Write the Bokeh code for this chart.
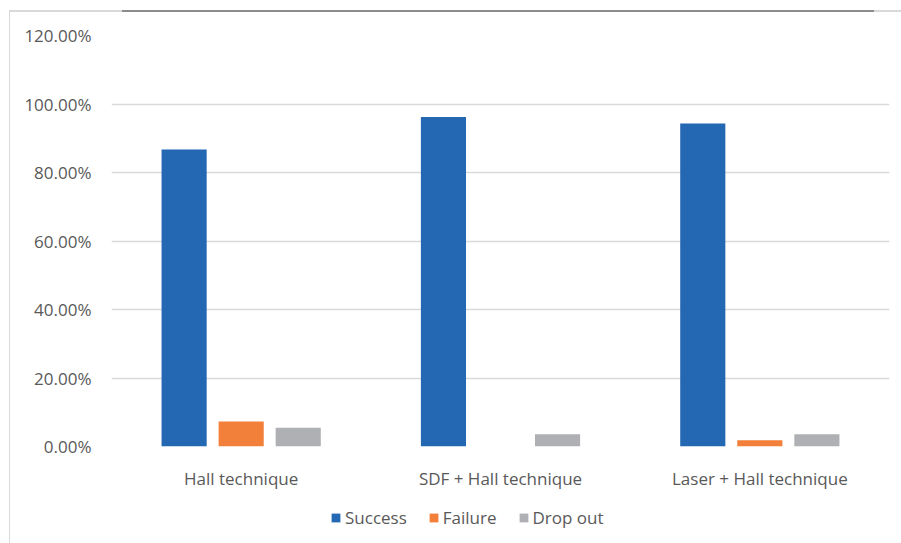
from bokeh.plotting import figure
from bokeh.models import ColumnDataSource, NumeralTickFormatter, Legend, LegendItem, FactorRange
from bokeh.layouts import column
from bokeh.transform import dodge
from bokeh.embed import file_html
from bokeh.resources import INLINE

categories = ["Hall technique", "SDF + Hall technique", "Laser + Hall technique"]
success = [0.867, 0.962, 0.943]
failure = [0.073, 0.0, 0.018]
drop_out = [0.055, 0.036, 0.036]
series_names = ["Success", "Failure", "Drop out"]
colors = ["#2467b2", "#f27f3a", "#afb0b3"]

src = ColumnDataSource(dict(cat=categories, success=success, failure=failure, drop=drop_out))

p = figure(width=891, height=477, frame_width=778, frame_height=411,
           x_range=FactorRange(*categories), y_range=(0, 1.2),
           output_backend="svg", toolbar_location=None,
           min_border_left=101, min_border_right=12, min_border_top=23, min_border_bottom=43)
p.outline_line_color = None
p.background_fill_color = "white"

fonts = "Open Sans"
txt = "#595959"
fs = "17px"
for field, off, col in zip(["success", "failure", "drop"], [-0.22, 0.0, 0.22], colors):
    p.vbar(x=dodge("cat", off, range=p.x_range), top=field, width=0.174, source=src,
           fill_color=col, line_color=None)

p.yaxis.formatter = NumeralTickFormatter(format="0.00%")
p.yaxis.ticker = [0, 0.2, 0.4, 0.6, 0.8, 1.0, 1.2]
p.yaxis.axis_line_color = None
p.yaxis.major_tick_line_color = None
p.yaxis.minor_tick_line_color = None
p.yaxis.major_label_text_font = fonts
p.yaxis.major_label_text_font_size = fs
p.yaxis.major_label_text_color = txt
p.yaxis.major_label_standoff = 14

p.xaxis.axis_line_color = None
p.xaxis.major_tick_line_color = None
p.xaxis.major_label_text_font = fonts
p.xaxis.major_label_text_font_size = fs
p.xaxis.major_label_text_color = txt
p.xaxis.major_label_standoff = 14

p.xgrid.grid_line_color = None
p.ygrid.grid_line_color = "#d9d9d9"
p.ygrid.grid_line_width = 1.5

# legend strip
lf = figure(width=891, height=53, frame_width=778, frame_height=53, x_range=(0, 778), y_range=(0, 53),
            output_backend="svg", toolbar_location=None,
            min_border_left=101, min_border_right=12, min_border_top=0, min_border_bottom=0)
lf.axis.visible = False
lf.grid.visible = False
lf.outline_line_color = None
dummy = ColumnDataSource(dict(x=[-1000], top=[0]))
lrs = [lf.vbar(x="x", top="top", width=1, source=dummy, fill_color=c, line_color=None) for c in colors]
legend = Legend(items=[LegendItem(label=n, renderers=[r]) for n, r in zip(series_names, lrs)],
                orientation="horizontal", location=(219, 16))
legend.label_text_font = fonts
legend.label_text_font_size = fs
legend.label_text_color = txt
legend.glyph_width = 11
legend.glyph_height = 11
legend.label_standoff = 4
legend.spacing = 21
legend.border_line_color = None
legend.background_fill_alpha = 0
legend.padding = 0
legend.margin = 0
lf.add_layout(legend)

layout = column(p, lf, spacing=0, margin=(10, 0, 0, 9),
                styles={"border-left": "1px solid #d9d9d9",
                        "border-top": "2px solid #8c8c8c",
                        "border-image": "linear-gradient(to right, #d9d9d9 114px, #8c8c8c 114px, #8c8c8c 863px, #d9d9d9 863px) 2"})
open("out.html", "w").write(file_html(layout, INLINE))
